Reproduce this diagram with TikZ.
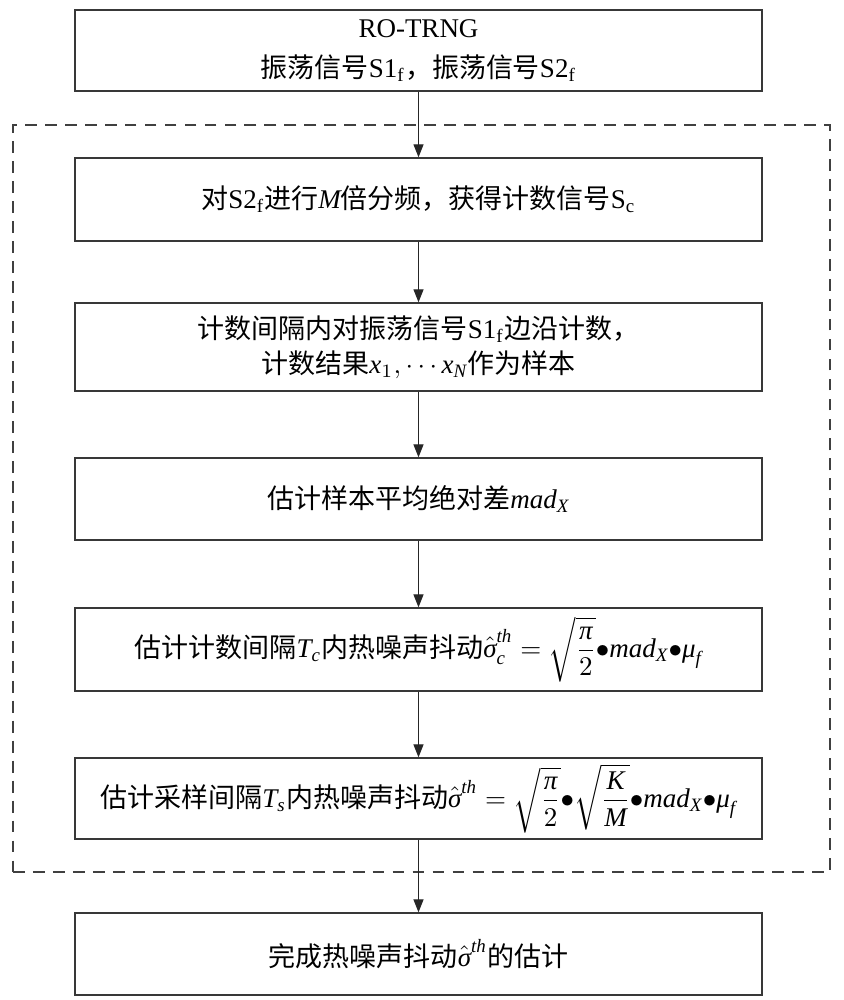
\documentclass[tikz,border=0pt]{standalone}
\usepackage{amsmath}
\usepackage{fontspec}
\setmainfont{Liberation Serif}
\newfontfamily\cjk{Noto Sans CJK SC}
\newcommand\zh[1]{{\cjk #1}}
\newcommand\mi[1]{\text{\itshape #1}}
\newcommand\dt{\mathord{\bullet}}
\usetikzlibrary{arrows.meta}
\begin{document}
\begin{tikzpicture}[x=0.3704pt,y=-0.3704pt,
  box/.style={draw=black!78, line width=0.5pt, minimum width=687*0.3704pt, inner sep=0pt, align=center, font=\normalsize},
  arr/.style={-{Triangle[width=3.7pt,length=4.8pt]}, line width=0.45pt, draw=black!85},
  grp/.style={draw=black!75, line width=0.5pt, dash pattern=on 4.4pt off 3pt}
]
\useasboundingbox (0,0) rectangle (843,1000);
\node[grp, minimum width=817*0.3704pt, minimum height=747*0.3704pt, inner sep=0pt] (grp) at (421.5,498.5) {};
\node[box, minimum height=81*0.3704pt] (b1) at (418.5,50.5) {RO-TRNG\\[2.8pt]\zh{振荡信号}S1$_{\mathrm f}$\zh{，振荡信号}S2$_{\mathrm f}$};
\node[box, minimum height=83*0.3704pt] (b2) at (418.5,199.5) {\zh{对}S2$_{\mathrm f}$\zh{进行}$\mi{M}$\zh{倍分频，获得计数信号}S$_{\mathrm c}$};
\node[box, minimum height=88*0.3704pt] (b3) at (418.5,347) {\zh{计数间隔内对振荡信号}S1$_{\mathrm f}$\zh{边沿计数，}\\[1pt]\zh{计数结果}$\mi{x}_1,\cdots \mi{x}_{\mi{N}}$\zh{作为样本}};
\node[box, minimum height=82*0.3704pt] (b4) at (418.5,499) {\zh{估计样本平均绝对差}$\mi{mad}_{\mi{X}}$};
\node[box, minimum height=83*0.3704pt] (b5) at (418.5,649.5) {\zh{估计计数间隔}$\mi{T}_{\mi{c}}$\zh{内热噪声抖动}$\hat{\mi{σ}}_{\mi{c}}^{\mi{th}}=\sqrt{\dfrac{\mi{π}}{2}}\dt\mi{mad}_{\mi{X}}\dt\mi{μ}_{\mi{f}}$};
\node[box, minimum height=81*0.3704pt] (b6) at (418.5,798.5) {\zh{估计采样间隔}$\mi{T}_{\mi{s}}$\zh{内热噪声抖动}$\hat{\mi{σ}}^{\mi{th}}=\sqrt{\dfrac{\mi{π}}{2}}\dt\sqrt{\dfrac{\mi{K}}{\mi{M}}}\dt\mi{mad}_{\mi{X}}\dt\mi{μ}_{\mi{f}}$};
\node[box, minimum height=82*0.3704pt] (b7) at (418.5,954) {\zh{完成热噪声抖动}$\hat{\mi{σ}}^{\mi{th}}$\zh{的估计}};
\draw[arr] (b1.south) -- (b2.north);
\draw[arr] (b2.south) -- (b3.north);
\draw[arr] (b3.south) -- (b4.north);
\draw[arr] (b4.south) -- (b5.north);
\draw[arr] (b5.south) -- (b6.north);
\draw[arr] (b6.south) -- (b7.north);
\end{tikzpicture}
\end{document}
